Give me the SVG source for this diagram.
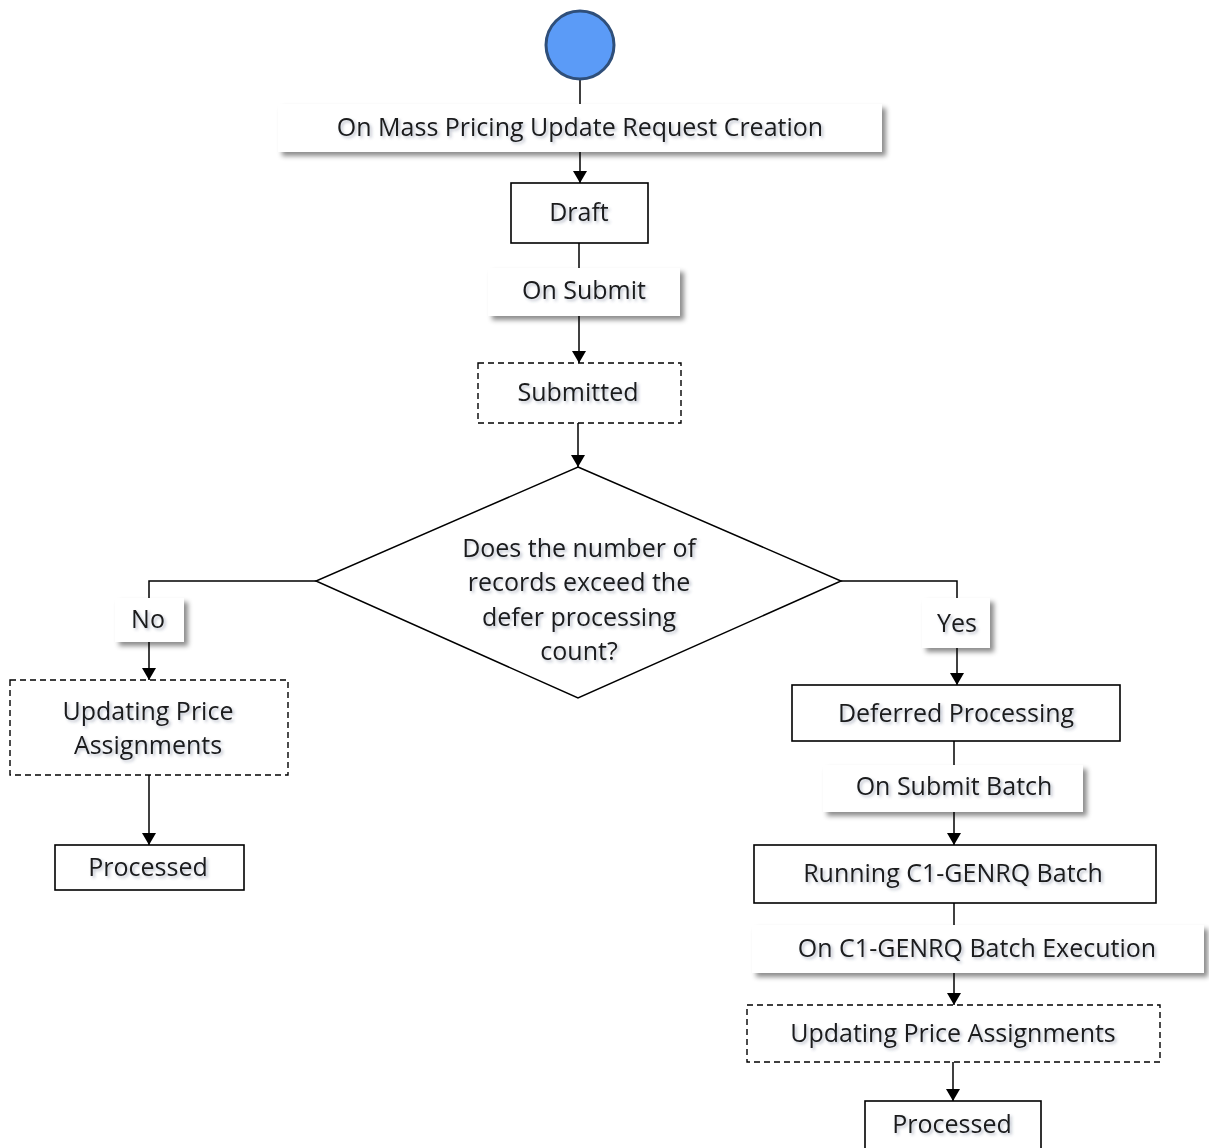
<svg xmlns="http://www.w3.org/2000/svg" width="1209" height="1148" viewBox="0 0 1209 1148">
<defs>
<filter id="sh" x="-10%" y="-30%" width="125%" height="180%">
<feDropShadow dx="4" dy="4" stdDeviation="2.5" flood-color="#000" flood-opacity="0.45"/>
</filter>
<filter id="tsh" x="-10%" y="-30%" width="120%" height="170%">
<feDropShadow dx="2" dy="2" stdDeviation="1.5" flood-color="#3a4a6a" flood-opacity="0.35"/>
</filter>
<marker id="ah" viewBox="0 0 12 14" refX="12" refY="7" markerWidth="12" markerHeight="14" markerUnits="userSpaceOnUse" orient="auto">
<path d="M0,0 L12,7 L0,14 z" fill="#000"/>
</marker>
</defs>
<style>
.lbl{fill:#fff;filter:url(#sh)}
.box{fill:#fff;stroke:#000;stroke-width:1.6}
.dash{fill:#fff;stroke:#000;stroke-width:1.4;stroke-dasharray:6,4}
.t{font-family:"Open Sans","Liberation Sans",sans-serif;font-size:25px;fill:#1a1a1a;text-anchor:middle;dominant-baseline:central;filter:url(#tsh)}
.c{stroke:#000;stroke-width:1.5;fill:none}
.ca{stroke:#000;stroke-width:1.5;fill:none;marker-end:url(#ah)}
</style>
<rect width="1209" height="1148" fill="#fff"/>
<g id="connectors">
<line class="c" x1="580" y1="80" x2="580" y2="104"/>
<line class="ca" x1="580" y1="152" x2="580" y2="183"/>
<line class="c" x1="579" y1="243" x2="579" y2="268"/>
<line class="ca" x1="579" y1="316" x2="579" y2="363"/>
<line class="ca" x1="578" y1="423" x2="578" y2="467"/>
<polyline class="c" points="316,581 149,581 149,598"/>
<line class="ca" x1="149" y1="642" x2="149" y2="680"/>
<line class="ca" x1="149" y1="775" x2="149" y2="845"/>
<polyline class="c" points="841,581 957,581 957,598"/>
<line class="ca" x1="957" y1="648" x2="957" y2="685"/>
<line class="c" x1="954" y1="741" x2="954" y2="765"/>
<line class="ca" x1="954" y1="812" x2="954" y2="845"/>
<line class="c" x1="954" y1="903" x2="954" y2="925"/>
<line class="ca" x1="954" y1="973" x2="954" y2="1005"/>
<line class="ca" x1="953" y1="1062" x2="953" y2="1101"/>
</g>
<g id="start">
<circle cx="580" cy="45" r="34" fill="#5b9bf7" stroke="#2f4f7a" stroke-width="3"/>
</g>
<g id="lbl-creation">
<rect class="lbl" x="278" y="104" width="604" height="48"/>
<text class="t" x="580" y="126">On Mass Pricing Update Request Creation</text>
</g>
<g id="draft">
<rect class="box" x="511" y="183" width="137" height="60"/>
<text class="t" x="579" y="211">Draft</text>
</g>
<g id="lbl-submit">
<rect class="lbl" x="488" y="268" width="192" height="48"/>
<text class="t" x="584" y="289">On Submit</text>
</g>
<g id="submitted">
<rect class="dash" x="478" y="363" width="203" height="60"/>
<text class="t" x="578" y="391">Submitted</text>
</g>
<g id="decision">
<polygon points="578,467 841,581 578,698 316,581" fill="#fff" stroke="#000" stroke-width="1.5"/>
<text class="t" x="579" y="547">Does the number of</text>
<text class="t" x="579" y="581">records exceed the</text>
<text class="t" x="579" y="616">defer processing</text>
<text class="t" x="579" y="650">count?</text>
</g>
<g id="lbl-no">
<rect class="lbl" x="115" y="598" width="69" height="44"/>
<text class="t" x="148" y="618">No</text>
</g>
<g id="updating-left">
<rect class="dash" x="10" y="680" width="278" height="95"/>
<text class="t" x="148" y="710">Updating Price</text>
<text class="t" x="148" y="744">Assignments</text>
</g>
<g id="processed-left">
<rect class="box" x="55" y="845" width="189" height="45"/>
<text class="t" x="148" y="866">Processed</text>
</g>
<g id="lbl-yes">
<rect class="lbl" x="922" y="598" width="68" height="50"/>
<text class="t" x="957" y="622">Yes</text>
</g>
<g id="deferred">
<rect class="box" x="792" y="685" width="328" height="56"/>
<text class="t" x="956" y="712">Deferred Processing</text>
</g>
<g id="lbl-submit-batch">
<rect class="lbl" x="823" y="765" width="260" height="47"/>
<text class="t" x="954" y="785">On Submit Batch</text>
</g>
<g id="running">
<rect class="box" x="754" y="845" width="402" height="58"/>
<text class="t" x="953" y="872">Running C1-GENRQ Batch</text>
</g>
<g id="lbl-execution">
<rect class="lbl" x="752" y="925" width="452" height="48"/>
<text class="t" x="977" y="947">On C1-GENRQ Batch Execution</text>
</g>
<g id="updating-right">
<rect class="dash" x="747" y="1005" width="413" height="57"/>
<text class="t" x="953" y="1032">Updating Price Assignments</text>
</g>
<g id="processed-right">
<rect class="box" x="865" y="1101" width="176" height="50"/>
<text class="t" x="952" y="1123">Processed</text>
</g>
</svg>
